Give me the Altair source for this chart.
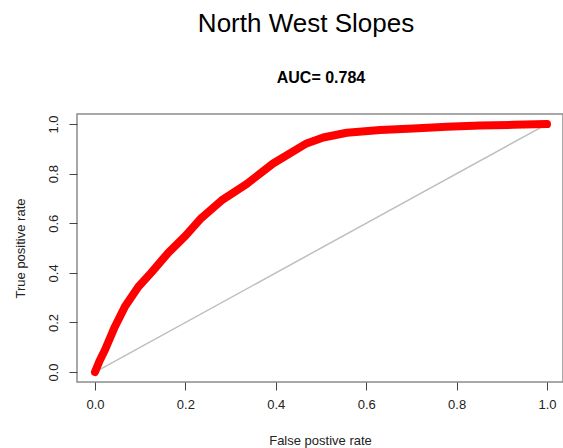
import altair as alt
import pandas as pd

# ROC curve for the North West Slopes model
fpr = [0.0, 0.010, 0.022, 0.044, 0.066, 0.096, 0.125, 0.162, 0.200, 0.233,
       0.280, 0.336, 0.394, 0.468, 0.505, 0.557, 0.631, 0.704, 0.778, 0.852,
       0.925, 1.0]
tpr = [0.0, 0.045, 0.089, 0.183, 0.263, 0.344, 0.402, 0.481, 0.549, 0.617,
       0.692, 0.759, 0.841, 0.922, 0.946, 0.965, 0.976, 0.982, 0.989, 0.994,
       0.997, 1.0]
ticks = [0.0, 0.2, 0.4, 0.6, 0.8, 1.0]
title_text = "North West Slopes"
auc_text = "AUC= 0.784"

roc = pd.DataFrame({"fpr": fpr, "tpr": tpr, "i": range(len(fpr))})
chance = pd.DataFrame({"fpr": [0.0, 1.0], "tpr": [0.0, 1.0]})
titles = pd.DataFrame({"t": [title_text]})
subtitles = pd.DataFrame({"t": [auc_text]})

FONT = "Liberation Sans"

xs = alt.Scale(domain=[-0.0398, 1.0354], nice=False, zero=False)
ys = alt.Scale(domain=[-0.04, 1.0406], nice=False, zero=False)

x_axis = alt.Axis(values=ticks, format=".1f", title="False postive rate",
                  titlePadding=23, labelPadding=8)
y_axis = alt.Axis(values=ticks, format=".1f", title="True positive rate",
                  labelAngle=-90, labelAlign="center", labelBaseline="alphabetic",
                  labelPadding=12, titlePadding=20)

diag = alt.Chart(chance).mark_line(color="#BEBEBE", strokeWidth=1.5).encode(
    x=alt.X("fpr:Q", scale=xs, axis=x_axis),
    y=alt.Y("tpr:Q", scale=ys, axis=y_axis),
)

curve = alt.Chart(roc).mark_line(
    color="#FF0000", strokeWidth=8, strokeCap="round", strokeJoin="round"
).encode(
    x=alt.X("fpr:Q", scale=xs),
    y=alt.Y("tpr:Q", scale=ys),
    order="i:O",
)

main_title = alt.Chart(titles).mark_text(
    font=FONT, fontSize=26, color="#000000", align="center", baseline="alphabetic"
).encode(x=alt.value(229), y=alt.value(-82), text="t:N")

auc_title = alt.Chart(subtitles).mark_text(
    font=FONT, fontSize=16, fontWeight="bold", color="#000000",
    align="center", baseline="alphabetic"
).encode(x=alt.value(244), y=alt.value(-31), text="t:N")

chart = alt.layer(diag, curve, main_title, auc_title).properties(
    width=486,
    height=268,
    autosize=alt.AutoSizeParams(type="none"),
    padding={"left": 77, "top": 114, "right": 0, "bottom": 66},
).configure_view(
    stroke="#8C8C8C", strokeWidth=1.5
).configure_axis(
    domain=False, grid=False, tickColor="#444444", tickSize=8, tickWidth=1,
    labelFont=FONT, labelFontSize=13, labelColor="#222222",
    titleFont=FONT, titleFontSize=13, titleFontWeight="normal", titleColor="#222222",
)

chart.save("out.html", embed_options={"renderer": "svg", "actions": False})
